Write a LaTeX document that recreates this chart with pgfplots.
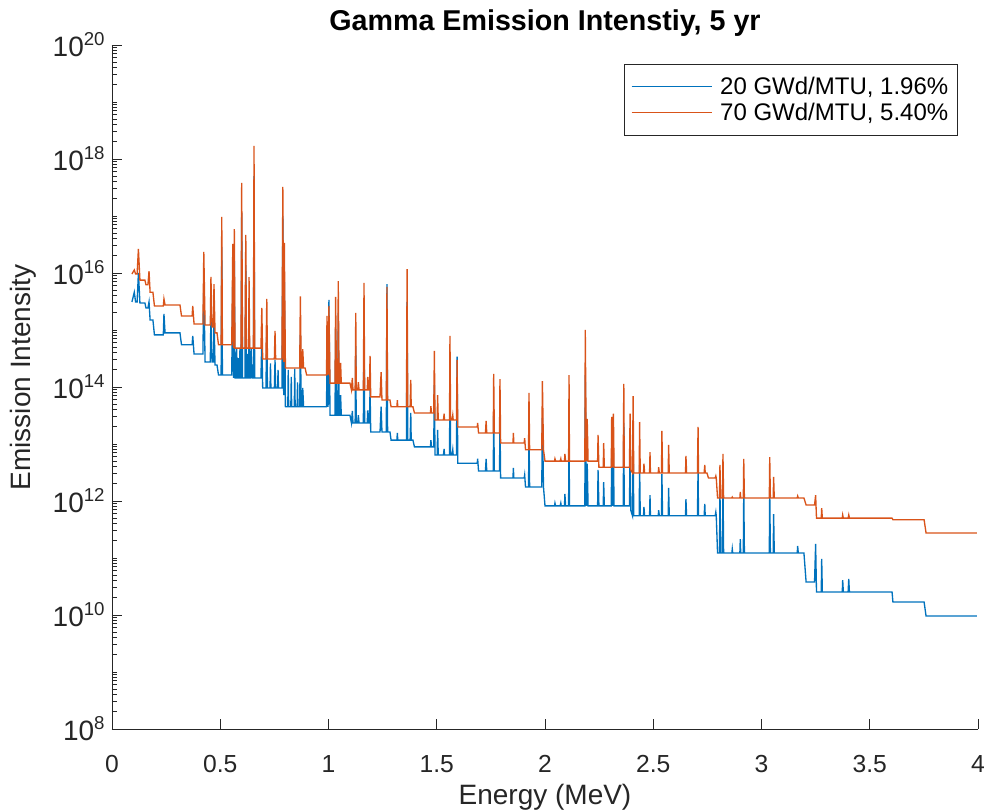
\documentclass[border=0pt]{standalone}
\usepackage{fontspec}
\setmainfont{Liberation Sans}
\usepackage{pgfplots}
\pgfplotsset{compat=1.18}
\definecolor{mblue}{RGB}{0,114,189}
\definecolor{morange}{RGB}{217,83,25}
\definecolor{axgray}{RGB}{38,38,38}

% minor ticks for every k*10^n, as MATLAB draws them
\def\minorlist{}
\foreach \e in {8,...,19}{\foreach \m in {1,...,9}{\xdef\minorlist{\minorlist\m e\e,}}}
\xdef\minorlist{\minorlist 1e20}
\newcommand{\tenpow}[1]{10\raisebox{0.4em}{\fontsize{14}{14}\selectfont #1}}

\begin{document}
\begin{tikzpicture}
\begin{axis}[
    name=ax,
    scale only axis,
    width=649.5pt, height=513pt,
    xmin=0, xmax=4,
    ymode=log, ymin=1e8, ymax=1e20,
    axis x line*=bottom, axis y line*=left,
    axis line style={-, axgray, line width=0.6pt},
    tick align=inside,
    tick style={axgray, line width=0.6pt},
    major tick length=7.5pt, minor tick length=4pt,
    xtick={0,0.5,1,1.5,2,2.5,3,3.5,4},
    xticklabels={0,0.5,1,1.5,2,2.5,3,3.5,4},
    ytick={1e8,1e10,1e12,1e14,1e16,1e18,1e20},
    yticklabels={\tenpow{8},\tenpow{10},\tenpow{12},\tenpow{14},\tenpow{16},\tenpow{18},\tenpow{20}},
    minor ytick/.expanded={\minorlist},
    xticklabel style={font=\fontsize{18.5}{20}\selectfont, text=axgray, yshift=-16pt},
    yticklabel style={font=\fontsize{21}{22}\selectfont, text=axgray, xshift=-2pt},
    xlabel={Energy (MeV)},
    ylabel={Emission Intensity},
    label style={font=\fontsize{21}{24}\selectfont, text=axgray},
    xlabel style={at={(axis description cs:0.5,-0.1)}, anchor=center},
    ylabel style={at={(axis description cs:-0.103,0.514)}, anchor=center},
    title={Gamma Emission Intenstiy, 5 yr},
    title style={at={(axis description cs:0.5,1.021)}, anchor=center, font=\bfseries\fontsize{21.5}{24}\selectfont},
    every axis title shift/.style={yshift=0pt},
    legend cell align=left,
    legend style={at={(axis description cs:0.9769,0.9722)}, anchor=north east,
        draw=axgray, line width=0.6pt, font=\fontsize{18}{20}\selectfont,
        inner xsep=5pt, inner ysep=7.5pt, row sep=1pt, column sep=4pt},
    legend image code/.code={\draw[#1, line width=0.8pt] (0pt,0pt) -- (60pt,0pt);},
]
\addplot[mblue, line width=1pt] coordinates {
(0.092,3.1e15) (0.103,4.6e15) (0.109,3.1e15) (0.116,3.1e15) (0.122,1.0e16) (0.129,2.98e15)
(0.152,2.98e15) (0.157,2.43e15) (0.166,2.43e15) (0.171,3.1e15) (0.176,1.50e15) (0.189,1.50e15)
(0.196,8.2e14) (0.237,8.2e14) (0.240,1.91e15) (0.245,8.9e14) (0.314,8.9e14) (0.321,5.5e14)
(0.370,5.5e14) (0.373,7.9e14) (0.379,3.8e14) (0.420,3.8e14) (0.424,6.9e15) (0.430,2.75e14)
(0.454,2.75e14) (0.457,2.07e15) (0.462,2.75e14) (0.469,2.75e14) (0.471,1.56e15) (0.476,2.43e14)
(0.485,2.43e14) (0.492,1.62e14) (0.504,1.62e14) (0.507,2.86e16) (0.510,1.62e14) (0.553,1.62e14)
(0.558,9.6e15) (0.561,1.44e14) (0.565,1.76e16) (0.568,1.44e14)
(0.574,1.44e14) (0.576,4.8e14) (0.578,1.44e14) (0.582,1.44e14) (0.584,3.2e14) (0.586,1.44e14)
(0.589,1.44e14) (0.591,4.8e14) (0.593,1.44e14)
(0.596,1.44e14) (0.599,1.13e17)
(0.603,1.44e14) (0.614,1.44e14) (0.618,1.38e16) (0.621,1.44e14)
(0.625,1.44e14) (0.627,3.8e14) (0.629,1.44e14)
(0.631,1.44e14) (0.633,2.53e15) (0.636,1.44e14)
(0.641,1.44e14) (0.643,4.8e14) (0.645,1.44e14) (0.647,2.5e14) (0.649,1.44e14)
(0.653,1.44e14) (0.656,5.0e17) (0.659,1.44e14) (0.688,1.44e14) (0.692,7.2e14)
(0.696,9.6e13) (0.711,9.6e13) (0.715,1.08e15) (0.718,9.6e13)
(0.730,9.6e13) (0.732,2.6e14) (0.734,9.6e13)
(0.750,9.6e13) (0.753,2.98e14) (0.756,9.6e13)
(0.765,9.6e13) (0.767,2.0e14) (0.769,9.6e13)
(0.785,9.6e13) (0.789,1.0e17) (0.793,7.2e13) (0.796,6.9e15) (0.801,4.5e13)
(0.812,4.5e13) (0.814,2.0e14) (0.816,4.5e13) (0.826,4.5e13) (0.828,1.5e14) (0.830,4.5e13)
(0.842,4.5e13) (0.844,2.1e14) (0.846,4.5e13) (0.855,4.5e13) (0.857,1.2e14) (0.859,4.5e13)
(0.867,4.5e13) (0.870,8.2e14) (0.874,4.5e13) (0.878,4.5e13) (0.881,9.6e13) (0.885,4.5e13)
(0.991,4.5e13) (0.993,4.8e14) (0.998,4.5e13) (1.002,3.36e15) (1.007,3.2e13) (1.030,3.2e13)
(1.033,1.04e15) (1.037,3.2e13) (1.043,3.2e13) (1.045,1.99e15) (1.049,3.2e13) (1.054,3.2e13)
(1.056,7.2e13) (1.059,3.2e13) (1.099,3.2e13) (1.106,2.34e13) (1.110,3.8e13) (1.113,2.34e13)
(1.123,2.34e13) (1.126,5.2e14) (1.128,2.34e13) (1.135,2.34e13) (1.138,3.2e13) (1.141,2.34e13)
(1.161,2.34e13) (1.164,1.76e15) (1.167,2.34e13) (1.179,2.34e13) (1.181,3.9e13) (1.184,2.34e13)
(1.189,2.34e13) (1.192,9.2e13) (1.195,1.62e13) (1.238,1.62e13) (1.243,4.5e13) (1.247,1.62e13)
(1.267,1.62e13) (1.270,6.4e15) (1.273,1.62e13) (1.284,1.62e13) (1.289,1.17e13) (1.316,1.17e13)
(1.318,1.56e13) (1.320,1.17e13) (1.360,1.17e13) (1.363,3.1e15) (1.366,1.17e13) (1.377,1.17e13)
(1.380,3.5e13) (1.382,1.17e13) (1.390,1.17e13) (1.397,8.9e12) (1.471,8.9e12) (1.473,1.17e13)
(1.476,8.9e12) (1.486,8.9e12) (1.489,1.08e14) (1.492,6.4e12) (1.502,6.4e12) (1.504,1.76e13)
(1.507,6.4e12) (1.531,6.4e12) (1.534,8.2e12) (1.536,6.4e12) (1.559,6.4e12) (1.561,1.91e14)
(1.564,6.4e12) (1.571,6.4e12) (1.574,7.9e12) (1.576,6.4e12) (1.591,6.4e12) (1.594,3.4e14)
(1.597,4.6e12) (1.687,4.6e12) (1.689,5.5e12) (1.693,3.36e12) (1.725,3.36e12) (1.728,5.5e12)
(1.731,3.36e12) (1.761,3.36e12) (1.763,3.6e13) (1.766,3.36e12) (1.790,3.36e12) (1.792,2.98e13)
(1.795,2.53e12) (1.852,2.53e12) (1.854,3.8e12) (1.856,2.53e12) (1.904,2.53e12) (1.906,2.86e12)
(1.910,1.76e12) (1.924,1.76e12) (1.926,1.76e13) (1.929,1.76e12) (1.985,1.76e12) (1.988,2.86e13)
(1.993,1.76e12) (2.000,8.2e11) (2.044,8.2e11) (2.046,9.2e11) (2.049,8.2e11) (2.070,8.2e11)
(2.073,9.2e11) (2.075,8.2e11) (2.090,8.2e11) (2.092,1.33e12) (2.095,8.2e11) (2.109,8.2e11)
(2.111,2.64e13) (2.113,8.2e11) (2.184,8.2e11) (2.186,1.62e14) (2.191,8.2e11) (2.195,4.5e12)
(2.199,8.2e11) (2.243,8.2e11) (2.245,3.5e12) (2.249,8.2e11) (2.269,8.2e11) (2.271,2.15e12)
(2.274,8.2e11) (2.306,8.2e11) (2.308,6.2e12) (2.312,8.2e11) (2.316,6.9e12) (2.319,8.2e11)
(2.361,8.2e11) (2.364,2.34e13) (2.366,8.2e11) (2.390,8.2e11) (2.393,6.9e12) (2.396,6.9e11)
(2.404,5.5e11) (2.407,1.22e13) (2.410,5.5e11) (2.435,5.5e11) (2.437,4.3e12) (2.440,5.5e11)
(2.455,5.5e11) (2.457,7.9e11) (2.460,5.5e11) (2.483,5.5e11) (2.485,1.27e12) (2.487,5.5e11)
(2.523,5.5e11) (2.525,6.9e11) (2.528,5.5e11) (2.538,5.5e11) (2.540,2.98e12) (2.543,5.5e11)
(2.569,5.5e11) (2.571,1.69e12) (2.574,5.5e11) (2.649,5.5e11) (2.651,1.08e12) (2.654,5.5e11)
(2.704,5.5e11) (2.707,3.5e12) (2.709,5.5e11) (2.735,5.5e11) (2.738,8.9e11) (2.740,5.5e11)
(2.786,5.5e11) (2.789,6.4e11) (2.791,5.5e11) (2.797,1.22e11) (2.806,1.22e11) (2.808,1.56e12)
(2.812,1.22e11) (2.820,1.22e11) (2.822,2.34e12) (2.825,1.22e11) (2.863,1.22e11) (2.865,1.44e11)
(2.867,1.22e11) (2.900,1.22e11) (2.902,2.15e11) (2.904,1.22e11) (2.916,1.22e11) (2.918,1.56e12)
(2.921,1.22e11) (3.036,1.22e11) (3.038,1.56e12) (3.041,1.22e11) (3.054,1.22e11) (3.056,5.9e11)
(3.059,1.22e11) (3.165,1.22e11) (3.167,1.62e11) (3.170,1.22e11) (3.196,1.22e11) (3.206,3.8e10)
(3.245,3.8e10) (3.250,1.76e11) (3.254,2.53e10) (3.276,2.53e10) (3.278,9.6e10) (3.281,2.53e10)
(3.373,2.53e10) (3.375,4.1e10) (3.378,2.53e10) (3.400,2.53e10) (3.403,4.3e10) (3.406,2.53e10)
(3.603,2.53e10) (3.607,1.69e10) (3.751,1.69e10) (3.760,9.6e9) (3.995,9.6e9)
};
\addlegendentry{20 GWd/MTU, 1.96\%}
\addplot[morange, line width=1pt] coordinates {
(0.092,9.6e15) (0.103,1.13e16) (0.109,9.6e15) (0.116,9.6e15) (0.122,2.64e16) (0.129,7.5e15)
(0.152,7.5e15) (0.157,6.2e15) (0.166,6.2e15) (0.171,1.08e16) (0.176,4.6e15) (0.189,4.6e15)
(0.196,2.64e15) (0.237,2.64e15) (0.240,3.5e15) (0.245,2.75e15) (0.314,2.75e15) (0.321,1.76e15)
(0.370,1.76e15) (0.373,2.64e15) (0.379,1.27e15) (0.420,1.27e15) (0.424,2.34e16) (0.430,1.22e15)
(0.454,1.22e15) (0.457,8.5e15) (0.462,1.13e15) (0.469,1.13e15) (0.471,6.4e15) (0.476,8.9e14)
(0.485,8.9e14) (0.492,5.5e14) (0.504,5.5e14) (0.507,9.6e16) (0.510,5.5e14) (0.553,5.5e14)
(0.558,3.23e16) (0.561,4.8e14) (0.565,5.91e16) (0.568,4.8e14) (0.596,4.8e14) (0.599,3.79e17)
(0.603,4.8e14) (0.614,4.8e14) (0.618,4.64e16) (0.621,4.8e14) (0.631,4.8e14) (0.633,8.5e15)
(0.636,4.8e14) (0.653,4.8e14) (0.656,1.69e18) (0.659,4.8e14) (0.688,4.8e14) (0.692,2.43e15)
(0.696,3.1e14) (0.711,3.1e14) (0.715,3.5e15) (0.718,3.1e14) (0.750,3.1e14) (0.753,9.6e14)
(0.756,3.1e14) (0.785,3.1e14) (0.789,3.23e17) (0.793,2.75e14) (0.796,3.36e16) (0.801,2.15e14)
(0.867,2.15e14) (0.870,3.9e15) (0.874,2.15e14) (0.878,2.15e14) (0.881,4.6e14) (0.885,2.15e14)
(0.892,2.15e14) (0.899,1.62e14) (0.991,1.62e14) (0.993,1.76e15) (0.998,1.62e14) (1.002,2.64e15)
(1.007,1.17e14) (1.030,1.17e14) (1.033,3.8e15) (1.037,1.17e14) (1.043,1.17e14) (1.045,7.2e15)
(1.049,1.17e14) (1.054,1.17e14) (1.056,2.64e14) (1.059,1.17e14) (1.099,1.17e14) (1.106,8.9e13)
(1.110,1.44e14) (1.113,8.9e13) (1.123,8.9e13) (1.126,1.99e15) (1.128,8.9e13) (1.135,8.9e13)
(1.138,1.22e14) (1.141,8.9e13) (1.161,8.9e13) (1.164,6.7e15) (1.167,8.9e13) (1.179,8.9e13)
(1.181,1.50e14) (1.184,8.9e13) (1.189,8.9e13) (1.192,3.5e14) (1.195,6.7e13) (1.238,6.7e13)
(1.243,1.83e14) (1.247,5.9e13) (1.267,5.9e13) (1.270,5.7e15) (1.273,5.9e13) (1.284,5.9e13)
(1.289,4.5e13) (1.316,4.5e13) (1.318,5.9e13) (1.320,4.5e13) (1.360,4.5e13) (1.363,1.17e16)
(1.366,4.5e13) (1.377,4.5e13) (1.380,1.33e14) (1.382,4.5e13) (1.390,4.5e13) (1.397,3.5e13)
(1.471,3.5e13) (1.473,4.6e13) (1.476,3.5e13) (1.486,3.5e13) (1.489,4.3e14) (1.492,2.64e13)
(1.502,2.64e13) (1.504,7.2e13) (1.507,2.64e13) (1.531,2.64e13) (1.534,3.4e13) (1.536,2.64e13)
(1.559,2.64e13) (1.561,7.9e14) (1.564,2.64e13) (1.571,2.64e13) (1.574,3.2e13) (1.576,2.64e13)
(1.591,2.64e13) (1.594,2.98e14) (1.597,1.99e13) (1.687,1.99e13) (1.689,2.34e13) (1.693,1.56e13)
(1.725,1.56e13) (1.728,2.53e13) (1.731,1.56e13) (1.761,1.56e13) (1.763,1.69e14) (1.766,1.56e13)
(1.790,1.56e13) (1.792,1.38e14) (1.795,1.04e13) (1.852,1.04e13) (1.854,1.56e13) (1.856,1.04e13)
(1.904,1.04e13) (1.906,1.27e13) (1.910,7.9e12) (1.924,7.9e12) (1.926,7.9e13) (1.929,7.9e12)
(1.985,7.9e12) (1.988,1.27e14) (1.993,7.9e12) (2.000,5.0e12) (2.044,5.0e12) (2.046,5.5e12)
(2.049,5.0e12) (2.070,5.0e12) (2.073,5.5e12) (2.075,5.0e12) (2.090,5.0e12) (2.092,6.7e12)
(2.095,5.0e12) (2.109,5.0e12) (2.111,1.62e14) (2.113,5.0e12) (2.184,5.0e12) (2.186,1.0e15)
(2.191,5.0e12) (2.195,2.75e13) (2.199,5.0e12) (2.243,5.0e12) (2.245,1.44e13) (2.249,3.9e12)
(2.269,3.9e12) (2.271,1.04e13) (2.274,3.9e12) (2.306,3.9e12) (2.308,2.98e13) (2.312,3.9e12)
(2.316,3.4e13) (2.319,3.9e12) (2.361,3.9e12) (2.364,1.13e14) (2.366,3.9e12) (2.390,3.9e12)
(2.393,3.4e13) (2.396,3.5e12) (2.404,3.1e12) (2.407,6.9e13) (2.410,3.1e12) (2.435,3.1e12)
(2.437,2.43e13) (2.440,3.1e12) (2.455,3.1e12) (2.457,4.5e12) (2.460,3.1e12) (2.483,3.1e12)
(2.485,7.2e12) (2.487,3.1e12) (2.523,3.1e12) (2.525,3.9e12) (2.528,3.1e12) (2.538,3.1e12)
(2.540,1.69e13) (2.543,3.1e12) (2.569,3.1e12) (2.571,9.6e12) (2.574,3.1e12) (2.649,3.1e12)
(2.651,6.2e12) (2.654,3.1e12) (2.704,3.1e12) (2.707,1.99e13) (2.709,3.1e12) (2.735,3.1e12)
(2.738,4.3e12) (2.740,3.1e12) (2.748,3.1e12) (2.755,2.53e12) (2.786,2.53e12) (2.789,2.75e12)
(2.791,2.53e12) (2.797,1.13e12) (2.806,1.13e12) (2.808,4.3e12) (2.812,1.13e12) (2.820,1.13e12)
(2.822,6.7e12) (2.825,1.13e12) (2.863,1.13e12) (2.865,1.17e12) (2.867,1.13e12) (2.900,1.13e12)
(2.902,1.44e12) (2.904,1.13e12) (2.916,1.13e12) (2.918,5.5e12) (2.921,1.13e12) (3.036,1.13e12)
(3.038,5.9e12) (3.041,1.13e12) (3.054,1.13e12) (3.056,2.64e12) (3.059,1.13e12) (3.165,1.13e12)
(3.167,1.22e12) (3.170,1.13e12) (3.196,1.13e12) (3.206,8.5e11) (3.245,8.5e11) (3.250,1.27e12)
(3.254,5.0e11) (3.276,5.0e11) (3.278,7.5e11) (3.281,5.0e11) (3.373,5.0e11) (3.375,5.7e11)
(3.378,5.0e11) (3.400,5.0e11) (3.403,5.7e11) (3.406,5.0e11) (3.603,5.0e11) (3.607,4.7e11)
(3.751,4.7e11) (3.760,2.75e11) (3.995,2.75e11)
};
\addlegendentry{70 GWd/MTU, 5.40\%}
\end{axis}
\pgfresetboundingbox
\path ([xshift=-84pt,yshift=-62.25pt]ax.south west) rectangle ([xshift=7.5pt,yshift=33.75pt]ax.north east);
\end{tikzpicture}
\end{document}
